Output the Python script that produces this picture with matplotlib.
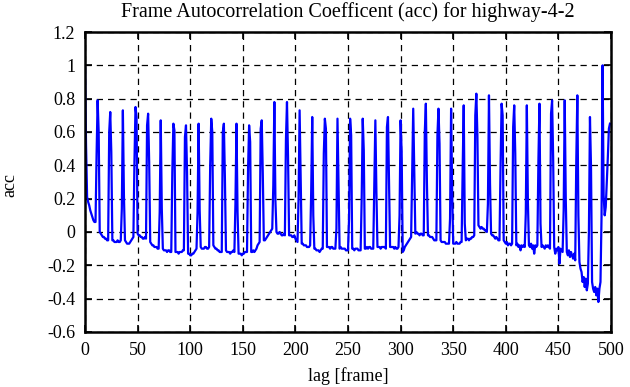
import matplotlib
matplotlib.use("Agg")
import matplotlib.pyplot as plt
import numpy as np

GOP = 12

# value at lag 12k (the I-frame spikes), k = 0..41
peaks = [1.00, 0.79, 0.72, 0.73, 0.75, 0.71, 0.67, 0.65, 0.64, 0.65, 0.68,
         0.65, 0.65, 0.64, 0.67, 0.78, 0.78, 0.73, 0.69, 0.68, 0.68, 0.68,
         0.68, 0.67, 0.69, 0.67, 0.74, 0.77, 0.74, 0.74, 0.76, 0.83, 0.82,
         0.77, 0.76, 0.76, 0.77, 0.79, 0.79, 0.82, 0.69, 1.00]

# value at lag 12k+1
post = [0.52, 0.60, 0.48, 0.22, 0.69, 0.42, 0.14, 0.61, 0.36, 0.13, 0.60,
        0.32, 0.12, 0.54, 0.35, 0.19, 0.45, 0.34, 0.10, 0.62, 0.29, 0.58,
        0.49, 0.24, 0.28, 0.48, 0.35, 0.30, 0.53, 0.25, 0.05, 0.58, 0.29,
        0.70, 0.47, 0.18, 0.05, 0.45, 0.20, 0.10, 0.39, 0.22]

# value at lag 12k+11 (just before the next spike)
pre = [0.46, 0.60, 0.14, 0.42, 0.64, 0.12, 0.36, 0.57, 0.12, 0.40, 0.60,
       0.17, 0.38, 0.62, 0.28, 0.55, 0.20, 0.24, 0.47, 0.02, 0.08, 0.20,
       0.30, 0.63, 0.10, 0.35, 0.60, 0.58, 0.08, 0.38, 0.70, 0.17, 0.39,
       0.63, 0.11, 0.43, 0.71, 0.13, 0.43, 0.00, 0.09]

# lags 12k+2 .. 12k+10
between = [
    [0.21, 0.18, 0.16, 0.13, 0.11, 0.09, 0.07, 0.06, 0.06],
    [0.00, -0.01, -0.02, -0.03, -0.03, -0.04, -0.04, -0.05, -0.05],
    [-0.05, -0.05, -0.06, -0.06, -0.06, -0.05, -0.06, -0.06, -0.05],
    [-0.05, -0.06, -0.07, -0.07, -0.07, -0.06, -0.05, -0.04, -0.03],
    [-0.01, -0.02, -0.02, -0.03, -0.03, -0.04, -0.04, -0.03, -0.04],
    [-0.06, -0.07, -0.08, -0.08, -0.09, -0.09, -0.09, -0.10, -0.10],
    [-0.10, -0.11, -0.11, -0.11, -0.12, -0.11, -0.11, -0.12, -0.12],
    [-0.12, -0.12, -0.12, -0.13, -0.12, -0.12, -0.12, -0.11, -0.11],
    [-0.13, -0.13, -0.14, -0.14, -0.13, -0.13, -0.12, -0.11, -0.10],
    [-0.09, -0.10, -0.10, -0.10, -0.09, -0.09, -0.10, -0.10, -0.09],
    [-0.08, -0.09, -0.10, -0.10, -0.11, -0.11, -0.12, -0.12, -0.12],
    [-0.11, -0.12, -0.12, -0.12, -0.13, -0.12, -0.12, -0.11, -0.12],
    [-0.13, -0.13, -0.13, -0.14, -0.13, -0.13, -0.12, -0.12, -0.12],
    [-0.12, -0.12, -0.11, -0.12, -0.11, -0.10, -0.08, -0.07, -0.06],
    [-0.05, -0.05, -0.04, -0.03, -0.02, -0.01, 0.00, 0.01, 0.02],
    [0.00, -0.01, -0.01, 0.00, -0.01, -0.02, -0.02, -0.01, -0.02],
    [-0.02, -0.02, -0.02, -0.03, -0.03, -0.02, -0.04, -0.05, -0.06],
    [-0.07, -0.07, -0.08, -0.08, -0.08, -0.09, -0.09, -0.09, -0.08],
    [-0.10, -0.10, -0.11, -0.11, -0.11, -0.12, -0.11, -0.10, -0.10],
    [-0.09, -0.09, -0.09, -0.10, -0.09, -0.09, -0.10, -0.10, -0.10],
    [-0.10, -0.09, -0.10, -0.10, -0.10, -0.10, -0.11, -0.11, -0.11],
    [-0.10, -0.10, -0.11, -0.10, -0.10, -0.10, -0.11, -0.11, -0.11],
    [-0.10, -0.10, -0.09, -0.10, -0.09, -0.09, -0.10, -0.10, -0.10],
    [-0.09, -0.09, -0.09, -0.10, -0.09, -0.09, -0.09, -0.09, -0.10],
    [-0.09, -0.09, -0.09, -0.09, -0.10, -0.09, -0.10, -0.10, -0.09],
    [-0.12, -0.11, -0.09, -0.08, -0.07, -0.06, -0.05, -0.04, -0.03],
    [-0.01, 0.00, -0.01, -0.01, -0.02, -0.01, -0.01, -0.02, -0.02],
    [-0.02, -0.02, -0.03, -0.03, -0.03, -0.04, -0.05, -0.05, -0.05],
    [-0.05, -0.06, -0.06, -0.06, -0.06, -0.07, -0.07, -0.07, -0.07],
    [-0.07, -0.07, -0.07, -0.06, -0.07, -0.07, -0.07, -0.06, -0.06],
    [-0.05, -0.04, -0.04, -0.05, -0.04, -0.04, -0.03, -0.03, -0.02],
    [0.04, 0.03, 0.02, 0.03, 0.02, 0.02, 0.01, 0.01, 0.00],
    [-0.01, -0.02, -0.02, -0.03, -0.04, -0.03, -0.04, -0.05, -0.05],
    [-0.05, -0.06, -0.07, -0.06, -0.08, -0.07, -0.07, -0.08, -0.07],
    [-0.08, -0.07, -0.09, -0.08, -0.11, -0.08, -0.09, -0.08, -0.09],
    [-0.08, -0.09, -0.07, -0.10, -0.08, -0.13, -0.08, -0.09, -0.08],
    [-0.09, -0.08, -0.09, -0.10, -0.08, -0.09, -0.08, -0.09, -0.10],
    [-0.09, -0.13, -0.10, -0.11, -0.09, -0.19, -0.10, -0.11, -0.12],
    [-0.12, -0.14, -0.11, -0.15, -0.12, -0.14, -0.16, -0.13, -0.17],
    [-0.18, -0.22, -0.24, -0.30, -0.27, -0.33, -0.28, -0.35, -0.31],
    [-0.30, -0.34, -0.36, -0.33, -0.38, -0.34, -0.42, -0.34, -0.30],
    [0.10, 0.15, 0.30, 0.45, 0.62, 0.65],
]

acc = []
for k in range(len(peaks)):
    acc.append(peaks[k])
    acc.append(post[k])
    acc.extend(between[k])
    if k < len(pre):
        acc.append(pre[k])
acc = np.array(acc)
lag = np.arange(len(acc))

plt.rcParams['font.family'] = ['Liberation Serif', 'DejaVu Serif']
plt.rcParams['font.size'] = 13

fig = plt.figure(figsize=(6.3, 3.87), dpi=100)
ax = fig.add_axes([85 / 630, 1 - 332 / 387, 526 / 630, 300 / 387])

ax.plot(lag, acc, color='#0000ff', lw=1.6)

ax.set_xlim(0, 500)
ax.set_ylim(-0.6, 1.2)
ax.set_xticks(np.arange(0, 501, 50))
ax.set_yticks(np.arange(-0.6, 1.21, 0.2))
ax.set_yticklabels(['%g' % round(v, 1) for v in np.arange(-0.6, 1.21, 0.2)])
ax.grid(True, color='black', linestyle=(0, (5, 4)), linewidth=0.9)
ax.tick_params(direction='in', length=5, width=1.2, top=True, right=True, pad=7)
for s in ax.spines.values():
    s.set_linewidth(1.8)

ax.set_title("Frame Autocorrelation Coefficent (acc) for highway-4-2", fontsize=14.5, pad=11)
ax.set_xlabel("lag [frame]", labelpad=6)
ax.set_ylabel("acc", va='center', ha='center')
ax.yaxis.set_label_coords(-0.143, 0.49)

fig.savefig("out.png", dpi=100)
